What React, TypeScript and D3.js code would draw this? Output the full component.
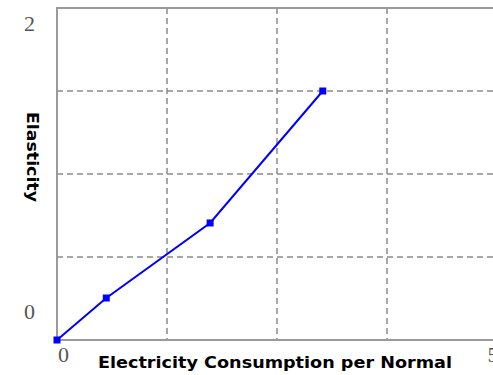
import React from "react";
import * as d3 from "d3";

const xValues = [0, 0.56, 1.74, 3.02];
const yValues = [0, 0.253, 0.705, 1.5];
const xGrid = [1.25, 2.5, 3.75];
const yGrid = [0.5, 1, 1.5];
const xTickLabels = [0, 5];
const yTickLabels = [0, 2];
const xTitle = "Electricity Consumption per Normal";
const yTitle = "Elasticity";

export default function App() {
  const W = 493, H = 375;
  const left = 57, right = 497, top = 8, bottom = 340;
  const x = d3.scaleLinear().domain([0, 5]).range([left, right]);
  const y = d3.scaleLinear().domain([0, 2]).range([bottom, top]);
  const pts = xValues.map((v, i) => [x(v), y(yValues[i])] as [number, number]);
  const line = d3.line()(pts) || "";
  return (
    <svg width={W} height={H} style={{ position: "absolute", left: 0, top: 0, background: "#fff" }}>
      {xGrid.map((g) => (
        <line key={"xg" + g} x1={x(g)} x2={x(g)} y1={top} y2={bottom} stroke="#8a8a8a" strokeWidth={1.5} strokeDasharray="6,4" />
      ))}
      {yGrid.map((g) => (
        <line key={"yg" + g} x1={left} x2={right} y1={y(g)} y2={y(g)} stroke="#8a8a8a" strokeWidth={1.5} strokeDasharray="6,4" />
      ))}
      <line x1={left} x2={left} y1={top - 1} y2={bottom} stroke="#9a9a9a" strokeWidth={2} />
      <line x1={left} x2={right} y1={top} y2={top} stroke="#9a9a9a" strokeWidth={2} />
      <line x1={left} x2={right} y1={bottom} y2={bottom} stroke="#9a9a9a" strokeWidth={2} />
      <path d={line} fill="none" stroke="#0000ff" strokeWidth={2} />
      {pts.map((p, i) => (
        <rect key={i} x={p[0] - 3.5} y={p[1] - 3.5} width={7} height={7} fill="#0000ff" />
      ))}
      {yTickLabels.map((v) => (
        <text key={"yl" + v} x={29.5} y={v === 0 ? y(v) - 21 : y(v) + 23} textAnchor="middle"
          fontFamily="Liberation Serif" fontSize={22} fill="#555">{v}</text>
      ))}
      {xTickLabels.map((v) => (
        <text key={"xl" + v} x={v === 0 ? x(v) + 6.5 : x(v) - 4} y={362} textAnchor="middle"
          fontFamily="Liberation Serif" fontSize={22} fill="#555">{v}</text>
      ))}
      <text x={275} y={368} textAnchor="middle" fontFamily="DejaVu Sans" fontWeight="bold" fontSize={16.5}
        textLength={354} lengthAdjust="spacingAndGlyphs" fill="#000">{xTitle}</text>
      <text transform="translate(27,157) rotate(90)" textAnchor="middle" fontFamily="DejaVu Sans" fontWeight="bold" fontSize={16.5}
        textLength={90} lengthAdjust="spacingAndGlyphs" fill="#000">{yTitle}</text>
    </svg>
  );
}
